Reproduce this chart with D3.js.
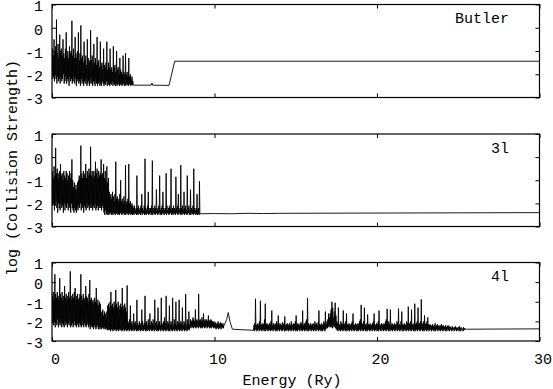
<!DOCTYPE html>
<head>
    <script src="https://d3js.org/d3.v7.min.js"></script>
</head>
<style>
body { margin: 0; background: #fff; }
text { font-family: "Liberation Mono", "DejaVu Sans Mono", monospace; font-size: 15px; fill: #000; }
</style>
<body>
<svg></svg>
<script>
    // Panel names and axis ticks
    var panelNames = ["Butler", "3l", "4l"];
    var xTicks = [0, 10, 20, 30];
    var yTicks = [-3, -2, -1, 0, 1];

    // The resonance regions are read as bins of 0.05 Ry:
    // each bin has a floor (lowest dip) and a peak (highest point).

    // Butler: bins from 0 Ry, then a few single points
    var butlerStep = 0.05;
    var butlerPeaks = [
        -0.9, -1.2, -0.5, -1.0, -0.8, 0.35, -1.1, -0.7, -1.3, -0.3,
        -1.0, -0.9, -1.2, -0.5, -1.1, -1.3, -0.9, -0.2, -1.2, -1.0,
        -1.3, -0.8, -1.1, -1.0, 0.3, -1.2, -0.9, -1.3, -0.4, -1.1,
        -1.3, -1.0, -0.2, -1.4, -1.1, 0.1, -1.3, -1.2, -1.5, -0.6,
        -1.4, -1.2, -1.6, -0.5, -1.3, -1.4, -1.5, -0.1, -1.4, -1.2,
        -1.6, -0.7, -1.5, -1.3, -1.6, -0.4, -1.5, -1.4, -1.7, -0.6,
        -1.6, -1.5, -1.8, -0.9, -1.6, -1.7, -1.5, -0.6, -1.8, -1.5,
        -1.7, -0.9, -1.8, -1.7, -1.9, -0.8, -1.7, -1.6, -1.9, -1.0,
        -1.8, -1.7, -2.0, -1.3, -1.8, -1.9, -2.0, -1.2, -1.9, -2.0,
        -1.1, -2.0, -1.9, -2.1, -1.3, -2.1, -2.0, -2.2, -2.1, -2.3];
    var butlerFloors = [
        -1.9, -2.2, -2.1, -2.3, -2.0, -2.2, -2.4, -2.1, -2.3, -2.2,
        -2.4, -2.1, -2.3, -2.2, -2.0, -2.4, -2.3, -2.1, -2.4, -2.2,
        -2.3, -2.5, -2.1, -2.3, -2.2, -2.4, -2.3, -2.1, -2.4, -2.2,
        -2.5, -2.3, -2.2, -2.4, -2.3, -2.5, -2.2, -2.4, -2.3, -2.5,
        -2.3, -2.4, -2.2, -2.5, -2.4, -2.3, -2.5, -2.4, -2.2, -2.4,
        -2.5, -2.3, -2.4, -2.5, -2.3, -2.4, -2.5, -2.4, -2.3, -2.5,
        -2.4, -2.5, -2.3, -2.4, -2.5, -2.4, -2.45, -2.3, -2.5, -2.4,
        -2.45, -2.5, -2.4, -2.45, -2.3, -2.5, -2.4, -2.45, -2.5, -2.4,
        -2.5, -2.45, -2.4, -2.5, -2.45, -2.4, -2.5, -2.45, -2.4, -2.5,
        -2.45, -2.5, -2.4, -2.45, -2.5, -2.45, -2.4, -2.5, -2.45, -2.47];
    var butlerTailE = [5.0, 6.1, 6.15, 6.2, 7.2, 7.55, 30];
    var butlerTailV = [-2.47, -2.47, -2.38, -2.47, -2.48, -1.44, -1.44];

    // 3l: bins from 0 Ry, then the flat tail
    var s3Step = 0.05;
    var s3Peaks = [
        -0.6, -0.9, -0.4, -0.8, 0.4, -0.7, -0.5, -0.9, -0.7, -0.6,
        -0.3, -0.8, -0.7, -1.0, -0.6, -0.8, -0.9, -0.6, -0.7, -1.0,
        -0.8, -0.6, -0.9, -0.7, -0.1, -1.0, -1.3, -1.1, -1.4, -1.2,
        -1.4, -1.1, -1.0, -0.8, -0.9, 0.5, -0.7, -0.9, -0.6, -0.8,
        -0.7, -0.3, -0.9, -0.6, -0.8, -0.5, -0.7, 0.45, -0.8, -0.6,
        -0.9, -0.6, -0.8, -0.2, -0.7, -0.5, -0.9, -0.6, -0.8, -0.7,
        -0.1, -0.8, -0.7, -0.3, -0.9, -0.6, -1.0, -0.4, -1.1, -0.9,
        -1.5, -1.7, -1.6, -1.8, -1.5, -1.7, -1.9, -1.6, -0.2, -1.8,
        -1.7, -1.9, -1.8, -1.6, -1.0, -1.9, -1.8, -2.0, -1.7, -1.9,
        -0.35, -2.0, -1.9, -1.8, -0.3, -2.0, -1.9, -2.1, -2.0, -2.1,
        -2.2, -2.1, -2.3, -2.2, -0.8, -2.2, -2.1, -2.3, -2.2, -2.1,
        -1.6, -2.2, -2.3, -2.1, -0.07, -2.2, -2.3, -2.1, -1.5, -2.2,
        -2.3, -2.2, -2.1, -0.15, -2.2, -2.3, -2.1, -2.2, -1.4, -2.3,
        -2.2, -2.1, -0.8, -2.3, -2.2, -2.1, -1.5, -2.2, -2.3, -2.2,
        -0.7, -2.1, -2.3, -2.2, -2.1, -2.2, -0.5, -2.3, -2.2, -2.1,
        -2.2, -2.3, -0.85, -2.2, -2.1, -1.6, -2.3, -2.2, -0.35, -2.2,
        -2.1, -2.3, -1.5, -2.2, -2.1, -2.3, -0.8, -2.2, -2.1, -2.3,
        -1.4, -2.2, -2.3, -2.1, -0.5, -2.2, -2.3, -2.2, -1.6, -2.3,
        -2.2, -1.05];
    var s3Floors = [
        -1.8, -2.1, -2.0, -2.3, -2.1, -1.9, -2.2, -2.4, -2.0, -2.2,
        -2.3, -2.0, -2.2, -2.1, -2.4, -2.0, -2.3, -2.1, -2.2, -2.0,
        -2.3, -2.1, -2.2, -2.4, -2.0, -2.2, -2.3, -2.4, -2.2, -2.3,
        -2.4, -2.2, -2.3, -2.1, -2.2, -2.0, -2.3, -2.1, -2.2, -2.4,
        -2.1, -2.2, -2.3, -2.0, -2.2, -2.1, -2.3, -2.2, -2.0, -2.2,
        -2.3, -2.1, -2.2, -2.0, -2.3, -2.2, -2.1, -2.3, -2.2, -2.1,
        -2.2, -2.3, -2.1, -2.2, -2.4, -2.5, -2.3, -2.45, -2.5, -2.4,
        -2.5, -2.45, -2.4, -2.5, -2.45, -2.5, -2.4, -2.45, -2.5, -2.45,
        -2.4, -2.5, -2.45, -2.5, -2.4, -2.45, -2.5, -2.45, -2.4, -2.5,
        -2.45, -2.5, -2.4, -2.45, -2.5, -2.45, -2.4, -2.5, -2.45, -2.5,
        -2.45, -2.5, -2.4, -2.45, -2.5, -2.45, -2.5, -2.4, -2.45, -2.5,
        -2.4, -2.5, -2.45, -2.4, -2.5, -2.45, -2.5, -2.4, -2.45, -2.5,
        -2.45, -2.4, -2.5, -2.45, -2.5, -2.4, -2.45, -2.5, -2.45, -2.4,
        -2.5, -2.45, -2.4, -2.5, -2.45, -2.5, -2.4, -2.45, -2.5, -2.4,
        -2.45, -2.5, -2.4, -2.45, -2.5, -2.45, -2.4, -2.5, -2.45, -2.5,
        -2.4, -2.45, -2.5, -2.4, -2.45, -2.5, -2.45, -2.4, -2.5, -2.45,
        -2.5, -2.4, -2.45, -2.5, -2.45, -2.4, -2.5, -2.45, -2.4, -2.5,
        -2.45, -2.5, -2.4, -2.45, -2.5, -2.45, -2.4, -2.5, -2.45, -2.5,
        -2.45, -2.5];
    var s3TailE = [9.1, 10, 11, 12, 13, 14, 30];
    var s3TailV = [-2.45, -2.44, -2.45, -2.43, -2.44, -2.43, -2.4];

    // 4l: first block of bins from 0 Ry, the bump and gap, second block from 12.4 Ry
    var s4StepA = 0.05;
    var s4PeaksA = [
        -0.7, -0.5, -0.9, 0.4, -0.6, -0.8, -0.5, -0.7, -0.9, 0.2,
        -0.6, -0.8, -0.5, -0.9, -0.7, -0.2, -0.8, -0.6, -0.9, -0.7,
        -0.5, -0.8, 0.55, -0.7, -0.9, -0.6, -0.8, -0.5, -0.3, -0.9,
        -0.7, -0.6, -0.9, -0.8, -0.6, 0.4, -0.7, -0.9, -0.6, -0.8,
        -0.9, -0.2, -0.7, -0.8, -1.0, -0.6, 0.1, -0.9, -0.8, -1.0,
        -0.9, -1.1, -0.8, -1.0, -0.3, -1.1, -0.9, -1.2, -1.0, -1.1,
        -1.5, -1.6, -1.4, -1.7, -1.5, -1.6, -1.8, -1.5, -1.2, -1.1,
        -1.3, -1.0, -0.5, -1.2, -1.1, -1.3, -1.0, -1.2, -0.4, -1.1,
        -1.3, -1.0, -1.2, -1.4, -1.1, -1.3, -0.3, -1.2, -1.4, -1.1,
        -1.3, -1.5, -0.17, -2.0, -2.1, -1.9, -1.2, -2.1, -2.0, -2.2,
        -1.6, -2.1, -2.0, -2.2, -0.9, -2.1, -2.2, -2.0, -2.1, -2.2,
        -1.4, -2.0, -2.2, -2.1, -0.7, -2.1, -2.0, -2.2, -1.9, -2.1,
        -1.6, -2.2, -2.0, -2.1, -1.9, -2.2, -0.9, -2.1, -2.0, -2.2,
        -1.3, -2.1, -2.0, -2.2, -0.8, -2.1, -2.2, -2.0, -1.8, -2.1,
        -0.7, -2.2, -2.0, -2.1, -1.2, -2.2, -2.0, -2.1, -0.8, -2.2,
        -1.9, -2.1, -1.0, -2.2, -2.0, -2.1, -0.9, -2.2, -2.0, -2.1,
        -1.3, -2.2, -2.0, -2.1, -0.6, -2.2, -1.9, -2.1, -1.5, -2.2,
        -1.9, -2.0, -1.95, -1.8, -1.9, -2.0, -1.4, -1.95, -1.9, -2.0,
        -0.6, -1.95, -1.9, -2.0, -1.8, -1.95, -1.6, -2.0, -1.9, -1.95,
        -1.9, -2.0, -1.7, -1.95, -2.0, -1.9, -1.95, -2.0, -2.05, -2.0,
        -2.1, -2.05, -2.15, -2.1, -2.0, -2.15, -2.1, -2.05, -2.1, -2.15,
        -2.1, -2.2];
    var s4FloorsA = [
        -1.9, -2.1, -2.2, -2.0, -2.3, -2.1, -2.2, -1.9, -2.3, -2.1,
        -2.2, -2.0, -2.3, -2.1, -2.2, -2.3, -2.0, -2.2, -2.1, -2.3,
        -2.1, -2.2, -2.0, -2.3, -2.2, -2.1, -2.3, -2.2, -2.0, -2.2,
        -2.3, -2.1, -2.2, -2.3, -2.1, -2.2, -2.3, -2.0, -2.2, -2.3,
        -2.1, -2.2, -2.3, -2.2, -2.1, -2.3, -2.2, -2.4, -2.3, -2.2,
        -2.3, -2.4, -2.2, -2.3, -2.4, -2.3, -2.2, -2.4, -2.3, -2.4,
        -2.3, -2.4, -2.3, -2.35, -2.4, -2.3, -2.4, -2.35, -2.45, -2.4,
        -2.45, -2.4, -2.5, -2.4, -2.45, -2.5, -2.4, -2.45, -2.4, -2.5,
        -2.4, -2.45, -2.5, -2.4, -2.45, -2.4, -2.5, -2.45, -2.4, -2.5,
        -2.45, -2.4, -2.5, -2.45, -2.4, -2.5, -2.45, -2.4, -2.5, -2.45,
        -2.4, -2.5, -2.45, -2.4, -2.5, -2.45, -2.5, -2.4, -2.45, -2.5,
        -2.45, -2.4, -2.5, -2.45, -2.4, -2.5, -2.45, -2.5, -2.4, -2.45,
        -2.5, -2.4, -2.45, -2.5, -2.45, -2.4, -2.5, -2.45, -2.4, -2.5,
        -2.45, -2.5, -2.4, -2.45, -2.5, -2.4, -2.45, -2.5, -2.45, -2.4,
        -2.5, -2.45, -2.4, -2.5, -2.45, -2.5, -2.4, -2.45, -2.5, -2.4,
        -2.45, -2.5, -2.4, -2.45, -2.5, -2.45, -2.4, -2.5, -2.45, -2.4,
        -2.5, -2.45, -2.4, -2.5, -2.45, -2.4, -2.5, -2.45, -2.4, -2.45,
        -2.3, -2.35, -2.25, -2.3, -2.35, -2.3, -2.25, -2.35, -2.3, -2.25,
        -2.35, -2.3, -2.25, -2.35, -2.3, -2.35, -2.25, -2.3, -2.35, -2.3,
        -2.25, -2.35, -2.3, -2.25, -2.35, -2.3, -2.35, -2.25, -2.3, -2.35,
        -2.3, -2.35, -2.4, -2.3, -2.35, -2.4, -2.35, -2.3, -2.4, -2.35,
        -2.3, -2.35];
    var s4GapE = [10.6, 10.75, 10.85, 10.95, 11.1, 12.3];
    var s4GapV = [-2.2, -1.9, -1.55, -2.0, -2.4, -2.45];
    var s4StartB = 12.4;
    var s4StepB = 0.05;
    var s4PeaksB = [
        -2.2, -2.1, -0.85, -2.2, -2.15, -2.1, -2.2, -2.0, -0.95, -2.15,
        -2.2, -2.1, -2.15, -1.9, -1.1, -2.2, -2.1, -2.15, -2.2, -2.1,
        -2.15, -2.0, -1.45, -2.2, -2.1, -2.15, -2.2, -2.1, -2.0, -2.15,
        -1.7, -2.2, -2.1, -2.15, -2.2, -2.05, -2.15, -2.1, -1.75, -2.2,
        -2.15, -2.1, -2.2, -2.15, -2.1, -2.2, -2.0, -2.15, -2.2, -2.1,
        -2.15, -2.0, -1.7, -2.2, -2.1, -2.15, -2.2, -2.1, -2.05, -2.15,
        -1.45, -2.2, -2.1, -2.15, -2.0, -1.9, -0.82, -2.1, -2.2, -2.15,
        -2.1, -2.2, -2.15, -2.1, -2.2, -2.0, -2.15, -2.1, -2.2, -2.05,
        -1.45, -2.15, -2.2, -2.1, -2.15, -2.2, -2.0, -2.1, -1.5, -2.15,
        -2.0, -1.9, -1.6, -1.8, -1.6, -1.4, -1.0, -1.3, -1.8, -1.5,
        -1.05, -1.7, -2.0, -2.1, -1.3, -2.15, -2.2, -2.0, -2.1, -2.15,
        -1.45, -2.2, -2.1, -2.0, -1.6, -2.15, -2.2, -2.1, -2.15, -2.2,
        -2.1, -2.0, -1.6, -2.15, -2.2, -2.1, -2.15, -2.2, -2.1, -2.15,
        -2.0, -1.9, -1.16, -2.1, -2.15, -2.0, -1.3, -2.15, -2.2, -2.1,
        -1.65, -2.15, -2.2, -2.1, -2.15, -2.2, -2.1, -2.0, -1.6, -2.15,
        -2.2, -2.1, -2.15, -2.0, -1.45, -2.15, -2.2, -2.1, -2.15, -2.2,
        -2.1, -2.15, -2.0, -1.9, -1.36, -2.1, -2.0, -2.15, -1.4, -2.2,
        -2.1, -2.15, -2.2, -2.1, -2.15, -2.2, -2.0, -2.1, -1.35, -2.15,
        -2.2, -2.0, -1.5, -2.15, -2.2, -2.1, -2.15, -2.2, -2.0, -2.1,
        -1.25, -2.15, -2.1, -2.0, -1.4, -2.15, -2.2, -2.1, -1.1, -2.15,
        -2.1, -2.0, -1.3, -2.15, -2.1, -2.0, -0.88, -2.1, -2.15, -2.0,
        -1.7, -2.15, -2.1, -2.0, -1.8, -2.15, -2.2, -2.15, -2.25, -2.2,
        -2.15, -2.25, -2.2, -2.1, -2.25, -2.2, -2.15, -2.25, -2.2, -2.3,
        -2.2, -2.15, -2.25, -2.2, -2.3, -2.25, -2.2, -2.3, -2.25, -2.2,
        -2.3, -2.25, -2.3, -2.35, -2.25, -2.3, -2.35, -2.3, -2.25, -2.35,
        -2.3, -2.35, -2.3, -2.25, -2.35, -2.3, -2.35, -2.4, -2.3, -2.35,
        -2.38];
    var s4FloorsB = [
        -2.45, -2.5, -2.4, -2.45, -2.5, -2.45, -2.4, -2.5, -2.45, -2.4,
        -2.5, -2.45, -2.4, -2.5, -2.45, -2.5, -2.4, -2.45, -2.5, -2.4,
        -2.45, -2.5, -2.45, -2.4, -2.5, -2.45, -2.4, -2.5, -2.45, -2.5,
        -2.4, -2.45, -2.5, -2.4, -2.45, -2.5, -2.45, -2.4, -2.5, -2.45,
        -2.5, -2.4, -2.45, -2.5, -2.45, -2.4, -2.5, -2.45, -2.4, -2.5,
        -2.45, -2.4, -2.5, -2.45, -2.5, -2.4, -2.45, -2.5, -2.4, -2.45,
        -2.5, -2.45, -2.4, -2.5, -2.45, -2.4, -2.5, -2.45, -2.5, -2.4,
        -2.45, -2.5, -2.4, -2.45, -2.5, -2.45, -2.4, -2.5, -2.45, -2.4,
        -2.5, -2.45, -2.4, -2.5, -2.45, -2.5, -2.4, -2.45, -2.5, -2.4,
        -2.3, -2.35, -2.25, -2.3, -2.2, -2.3, -2.25, -2.35, -2.2, -2.3,
        -2.25, -2.35, -2.4, -2.45, -2.5, -2.4, -2.45, -2.5, -2.45, -2.4,
        -2.5, -2.45, -2.4, -2.5, -2.45, -2.5, -2.4, -2.45, -2.5, -2.4,
        -2.45, -2.5, -2.4, -2.45, -2.5, -2.45, -2.4, -2.5, -2.45, -2.5,
        -2.4, -2.45, -2.5, -2.4, -2.45, -2.5, -2.45, -2.4, -2.5, -2.45,
        -2.5, -2.4, -2.45, -2.5, -2.45, -2.4, -2.5, -2.45, -2.4, -2.5,
        -2.45, -2.4, -2.5, -2.45, -2.5, -2.4, -2.45, -2.5, -2.4, -2.45,
        -2.5, -2.45, -2.4, -2.5, -2.45, -2.4, -2.5, -2.45, -2.5, -2.4,
        -2.45, -2.5, -2.4, -2.45, -2.5, -2.45, -2.4, -2.5, -2.45, -2.4,
        -2.5, -2.45, -2.4, -2.5, -2.45, -2.5, -2.4, -2.45, -2.5, -2.4,
        -2.45, -2.5, -2.4, -2.45, -2.5, -2.45, -2.4, -2.5, -2.45, -2.5,
        -2.4, -2.45, -2.5, -2.4, -2.45, -2.5, -2.45, -2.4, -2.5, -2.45,
        -2.5, -2.4, -2.45, -2.5, -2.45, -2.4, -2.5, -2.45, -2.4, -2.5,
        -2.45, -2.4, -2.5, -2.45, -2.5, -2.4, -2.45, -2.5, -2.4, -2.45,
        -2.5, -2.45, -2.4, -2.5, -2.45, -2.4, -2.5, -2.45, -2.5, -2.4,
        -2.45, -2.5, -2.4, -2.45, -2.5, -2.45, -2.4, -2.5, -2.45, -2.4,
        -2.5, -2.45, -2.4, -2.5, -2.45, -2.5, -2.4, -2.45, -2.5, -2.45,
        -2.42];
    var s4TailE = [25.5, 30];
    var s4TailV = [-2.4, -2.38];

    // build point lists: each bin goes floor -> peak
    function binned(start, step, floors, peaks) {
        var pts = [];
        var n = Math.min(floors.length, peaks.length);
        for (var i = 0; i < n; i++) {
            pts.push([start + i * step, floors[i]]);
            pts.push([start + i * step + step / 2, peaks[i]]);
        }
        return pts;
    }
    function paired(es, vs) {
        return es.map(function (e, i) { return [e, vs[i]]; });
    }
    var series = [
        binned(0, butlerStep, butlerFloors, butlerPeaks).concat(paired(butlerTailE, butlerTailV)),
        binned(0, s3Step, s3Floors, s3Peaks).concat(paired(s3TailE, s3TailV)),
        binned(0, s4StepA, s4FloorsA, s4PeaksA).concat(paired(s4GapE, s4GapV))
            .concat(binned(s4StartB, s4StepB, s4FloorsB, s4PeaksB)).concat(paired(s4TailE, s4TailV))
    ];

    // layout
    var width = 553, height = 389;
    var left = 52, right = 539.5;
    var panels = [
        {top: 4.5, bottom: 97.5},
        {top: 134, bottom: 226.5},
        {top: 262.5, bottom: 341}
    ];

    var svg = d3.select("svg").attr("width", width).attr("height", height);

    var x = d3.scaleLinear().domain([0, 30]).range([left, right]);

    panels.forEach(function (p, k) {
        var y = d3.scaleLinear().domain([-3, 1]).range([p.bottom, p.top]);
        var g = svg.append("g");

        g.append("clipPath").attr("id", "clip" + k)
            .append("rect").attr("x", left).attr("y", p.top)
            .attr("width", right - left).attr("height", p.bottom - p.top);

        var line = d3.line()
            .x(function (d) { return x(d[0]); })
            .y(function (d) { return y(d[1]); });

        g.append("path")
            .datum(series[k])
            .attr("clip-path", "url(#clip" + k + ")")
            .attr("d", line)
            .attr("fill", "none")
            .attr("stroke", "#000")
            .attr("stroke-width", 0.9);

        // axes, ticks pointing inwards
        var fmt = function (d) { return String(d); };
        var la = g.append("g").attr("transform", "translate(" + left + ",0)")
            .call(d3.axisLeft(y).tickValues(yTicks).tickSize(-4).tickSizeOuter(0).tickPadding(9).tickFormat(fmt));
        g.append("g").attr("transform", "translate(" + right + ",0)")
            .call(d3.axisRight(y).tickValues(yTicks).tickSize(-4).tickSizeOuter(0).tickFormat(""));
        g.append("g").attr("transform", "translate(0," + p.top + ")")
            .call(d3.axisTop(x).tickValues(xTicks).tickSize(-4).tickSizeOuter(0).tickFormat(""));
        var ba = g.append("g").attr("transform", "translate(0," + p.bottom + ")")
            .call(d3.axisBottom(x).tickValues(xTicks).tickSize(-4).tickSizeOuter(0).tickPadding(12)
                .tickFormat(k == 2 ? fmt : ""));
        g.selectAll(".domain").remove();
        g.selectAll(".tick line").attr("stroke", "#000");
        la.selectAll("text").attr("font-family", null).attr("font-size", null).attr("dy", "0.42em");
        ba.selectAll("text").attr("font-family", null).attr("font-size", null)
            .attr("dx", 3);

        // frame
        g.append("rect")
            .attr("x", left).attr("y", p.top)
            .attr("width", right - left).attr("height", p.bottom - p.top)
            .attr("fill", "none").attr("stroke", "#000").attr("stroke-width", 1.2);

        g.append("text")
            .attr("x", 509).attr("y", p.top + 18.5)
            .attr("text-anchor", "end")
            .text(panelNames[k]);
    });

    svg.append("text")
        .attr("x", 292).attr("y", 385)
        .attr("text-anchor", "middle")
        .text("Energy (Ry)");

    svg.append("text")
        .attr("transform", "translate(17,168)rotate(-90)")
        .attr("text-anchor", "middle")
        .text("log (Collision Strength)");
</script>
</body>
